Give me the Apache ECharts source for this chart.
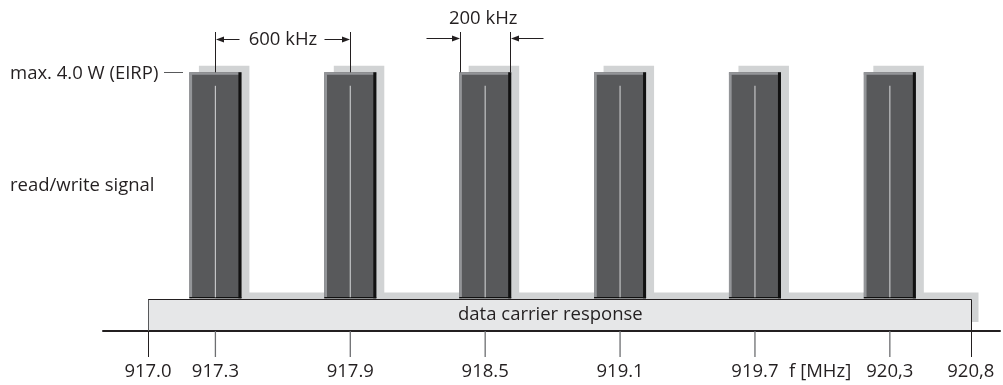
<!DOCTYPE html>
<html>
<head>
<meta charset="utf-8">
<script src="https://cdn.jsdelivr.net/npm/echarts@6/dist/echarts.min.js"></script>
<style>
html,body{margin:0;padding:0;background:#fff;}
#chart{width:1003px;height:385px;}
</style>
</head>
<body>
<div id="chart"></div>
<script>
// ---- data ----
const channels = [917.3, 917.9, 918.5, 919.1, 919.7, 920.3];   // MHz, channel centres
const maxPower = 4.0;            // W (EIRP), read/write signal level
const responseLevel = 0.49;      // data carrier response level (schematic)
const bandStart = 917.0;
const bandEnd = 920.66;          // drawn end of band (labelled 920,8)
const tickValues = [917.0, 917.3, 917.9, 918.5, 919.1, 919.7, 920.3, 920.66];
const tickLabels = ['917.0', '917.3', '917.9', '918.5', '919.1', '919.7', '920,3', '920,8'];
const unitLabel = 'f [MHz]';
const unitLabelAt = 919.99;
const texts = {
  max: 'max. 4.0 W (EIRP)',
  signal: 'read/write signal',
  response: 'data carrier response',
  spacing: '600 kHz',
  width: '200 kHz'
};

const FONT = '"Open Sans", "Noto Sans", sans-serif';
const FS = 18.5;
const INK = '#231f20';

const chart = echarts.init(document.getElementById('chart'), null, {renderer: 'canvas'});

function arrowHead(tipX, tipY, dir) { // dir: -1 points left, +1 points right
  const L = 8, H = 3;
  return {
    type: 'polygon',
    shape: {points: [[tipX, tipY], [tipX - dir * L, tipY - H], [tipX - dir * L, tipY + H]]},
    style: {fill: INK}
  };
}

const option = {
  animation: false,
  backgroundColor: '#ffffff',
  grid: {left: 103, right: 3, top: 72.3, bottom: 54},
  xAxis: {
    type: 'value', min: 916.8, max: 920.79,
    axisLine: {show: true, lineStyle: {color: INK, width: 2}},
    axisTick: {show: false}, axisLabel: {show: false}, splitLine: {show: false}
  },
  yAxis: {
    type: 'value', min: 0, max: maxPower, show: false, splitLine: {show: false}
  },
  series: [
    // data carrier response band
    {
      type: 'custom', z: 2, silent: true,
      data: [[bandStart, bandEnd]],
      renderItem: function (params, api) {
        const p0 = api.coord([api.value(0), responseLevel]);
        const p1 = api.coord([api.value(1), 0]);
        const x0 = Math.round(p0[0]), x1 = Math.round(p1[0]) + 0.5;
        const yt = Math.round(p0[1]) + 0.5, yb = p1[1] - 1;
        const sx = api.coord([channels[0], 0])[0];
        const textX = api.coord([918.79, 0])[0];
        return {
          type: 'group', children: [
            {type: 'rect', shape: {x: sx, y: yt - 7, width: x1 + 7 - sx, height: yb - yt - 1}, style: {fill: '#d1d3d4'}},
            {type: 'rect', shape: {x: x0, y: yt, width: x1 - x0, height: yb - yt}, style: {fill: '#e6e7e8'}},
            {type: 'line', shape: {x1: x0, y1: yt, x2: x1, y2: yt}, style: {stroke: INK, lineWidth: 1}},
            {type: 'line', shape: {x1: x0 + 0.5, y1: yt, x2: x0 + 0.5, y2: yb + 1}, style: {stroke: '#58595b', lineWidth: 1}},
            {type: 'line', shape: {x1: x1, y1: yt, x2: x1, y2: yb + 1}, style: {stroke: INK, lineWidth: 1}},
            {type: 'text', style: {text: texts.response, x: textX, y: (yt + yb) / 2, align: 'center', verticalAlign: 'middle',
              fill: INK, font: FS + 'px ' + FONT}}
          ]
        };
      }
    },
    // read/write signal channels
    {
      type: 'custom', z: 3, silent: true,
      data: channels.map(function (c) { return [c, maxPower]; }),
      renderItem: function (params, api) {
        const top = api.coord([api.value(0), api.value(1)]);
        const bot = api.coord([api.value(0), responseLevel]);
        const cx = top[0], hw = 26;
        const x0 = cx - hw, yt = top[1], yb = bot[1] - 1;
        return {
          type: 'group', children: [
            {type: 'rect', shape: {x: cx - 16.5, y: yt - 6.5, width: 50.5, height: yb - yt + 6.5}, style: {fill: '#d1d3d4'}},
            {type: 'rect', shape: {x: x0, y: yt, width: 2 * hw, height: yb - yt}, style: {fill: '#58595b'}},
            {type: 'rect', shape: {x: x0, y: yt, width: 2.7, height: yb - yt}, style: {fill: '#939598'}},
            {type: 'rect', shape: {x: x0, y: yt, width: 2 * hw, height: 2.5}, style: {fill: '#939598'}},
            {type: 'rect', shape: {x: x0 + 2 * hw - 3, y: yt, width: 3, height: yb - yt}, style: {fill: '#111111'}},
            {type: 'rect', shape: {x: x0, y: yb - 1.3, width: 2 * hw, height: 1.3}, style: {fill: '#111111'}},
            {type: 'line', shape: {x1: cx, y1: yt + 13.5, x2: cx, y2: yb - 1}, style: {stroke: '#c3c4c6', lineWidth: 1.2}}
          ]
        };
      }
    },
    // frequency ticks and labels
    {
      type: 'custom', z: 4, silent: true,
      data: tickValues.map(function (v) { return [v, 0]; }),
      renderItem: function (params, api) {
        const p = api.coord([api.value(0), 0]);
        const i = params.dataIndex;
        const isEnd = (i === 0 || i === tickValues.length - 1);
        const x = isEnd ? Math.round(p[0]) + 0.5 : p[0];
        return {
          type: 'group', children: [
            {type: 'line', shape: {x1: x, y1: p[1], x2: x, y2: p[1] + 26}, style: {stroke: isEnd ? INK : '#6d6e71', lineWidth: isEnd ? 1 : 1.3}},
            {type: 'text', style: {text: tickLabels[i], x: p[0], y: p[1] + 41, align: 'center', verticalAlign: 'middle',
              fill: INK, font: FS + 'px ' + FONT}}
          ]
        };
      }
    },
    // annotations
    {
      type: 'custom', z: 5, silent: true,
      data: [[0]],
      renderItem: function (params, api) {
        const yMax = api.coord([channels[0], maxPower])[1];
        const yResp = api.coord([channels[0], responseLevel])[1];
        const xa = api.coord([channels[0], 0])[0];
        const xb = api.coord([channels[1], 0])[0];
        const xc = api.coord([channels[2], 0])[0];
        const xu = api.coord([unitLabelAt, 0])[0];
        const yAxisLine = api.coord([channels[0], 0])[1];
        const font = FS + 'px ' + FONT;
        const dimTop = 32, yA = 39.5, yB = 38.5;
        const l1 = Math.round(xa) + 0.5, l2 = Math.round(xb) + 0.5;
        const w1 = Math.round(xc - 25) + 0.5, w2 = Math.round(xc + 25) + 0.5;
        return {
          type: 'group', children: [
            {type: 'text', style: {text: texts.max, x: 10, y: yMax + 1, align: 'left', verticalAlign: 'middle', fill: INK, font: font}},
            {type: 'line', shape: {x1: 164, y1: Math.round(yMax) + 0.5, x2: 183, y2: Math.round(yMax) + 0.5}, style: {stroke: '#58595b', lineWidth: 1}},
            {type: 'text', style: {text: texts.signal, x: 10, y: (yMax + yResp) / 2, align: 'left', verticalAlign: 'middle', fill: INK, font: font}},
            // 600 kHz spacing
            {type: 'line', shape: {x1: l1, y1: dimTop, x2: l1, y2: yMax}, style: {stroke: INK, lineWidth: 1}},
            {type: 'line', shape: {x1: l2, y1: dimTop, x2: l2, y2: yMax}, style: {stroke: INK, lineWidth: 1}},
            {type: 'line', shape: {x1: l1 + 4, y1: yA, x2: l1 + 24, y2: yA}, style: {stroke: INK, lineWidth: 1}},
            arrowHead(l1 + 0.5, yA, -1),
            {type: 'line', shape: {x1: l2 - 26, y1: yA, x2: l2 - 4, y2: yA}, style: {stroke: INK, lineWidth: 1}},
            arrowHead(l2 - 0.5, yA, 1),
            {type: 'text', style: {text: texts.spacing, x: (l1 + l2) / 2, y: yA, align: 'center', verticalAlign: 'middle', fill: INK, font: font}},
            // 200 kHz width
            {type: 'line', shape: {x1: w1, y1: dimTop, x2: w1, y2: yMax}, style: {stroke: INK, lineWidth: 1}},
            {type: 'line', shape: {x1: w2, y1: dimTop, x2: w2, y2: yMax}, style: {stroke: INK, lineWidth: 1}},
            {type: 'line', shape: {x1: w1 - 34, y1: yB, x2: w1 - 4, y2: yB}, style: {stroke: INK, lineWidth: 1}},
            arrowHead(w1 - 0.5, yB, 1),
            {type: 'line', shape: {x1: w2 + 4, y1: yB, x2: w2 + 33, y2: yB}, style: {stroke: INK, lineWidth: 1}},
            arrowHead(w2 + 0.5, yB, -1),
            {type: 'text', style: {text: texts.width, x: xc - 2, y: 19, align: 'center', verticalAlign: 'middle', fill: INK, font: font}},
            // unit label
            {type: 'text', style: {text: unitLabel, x: xu, y: yAxisLine + 41, align: 'center', verticalAlign: 'middle', fill: INK, font: font}}
          ]
        };
      }
    }
  ]
};

chart.setOption(option);
</script>
</body>
</html>
